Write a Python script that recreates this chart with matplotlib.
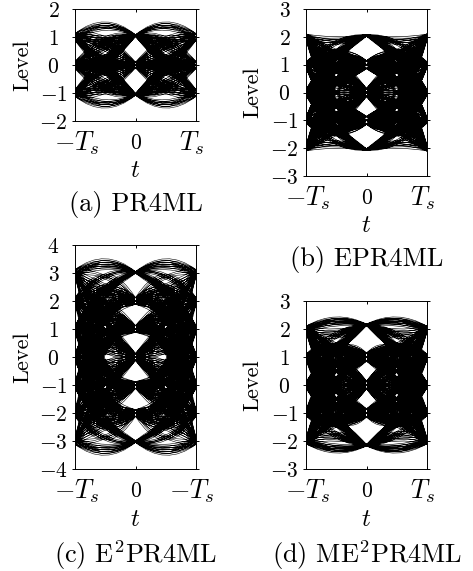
import matplotlib
matplotlib.use('Agg')
from matplotlib import pyplot as plt
from matplotlib.path import Path
from matplotlib.patches import PathPatch
from matplotlib.transforms import ScaledTranslation

plt.rcParams['mathtext.fontset']='cm'
plt.rcParams['font.family']=['cmr10','DejaVu Serif']
plt.rcParams['axes.formatter.use_mathtext']=True

# one half eye, t=-Ts..0: level at start, at the middle and at the end
a_start=[1,1,1,1,1,1,1, 0,0,0,0,0,0,0,0, -1,-1,-1,-1,-1, 1,1,1,1,1,1,1,1, 0,0,0,0,0]
a_mid=[1.48,1.42,1.36,1.30,0.98,0.90,0.75, 0.95,0.85,0.75,0.65,0.55,0.30,0.20,0.10, 0.30,0.20,0.10,0.00,-0.10,
       0.95,0.85,0.75,0.65,0.55,0.30,0.20,0.10, 0.30,0.20,0.10,0.00,-0.10]
a_end=[1.05,1.05,1.05,1.05,1.05,1.05,1.05, 1.05,1.05,1.05,1.05,1.05,1.05,1.05,1.05, 1.05,1.05,1.05,1.05,1.05,
       0,0,0,0,0,0,0,0, 0,0,0,0,0]
a_fan=[-0.12,0.0,0.12]

b_start=[2,2,2, 1,1,1,1,1, 0,0,0,0, -1,-1, -2,-2,
         2,2,2,2,2,2, 1,1,1,1,1,1,1, 0,0,0,0,0,0,0, -1,-1,-1,-1,-1,-1, -2,-2,-2,-2,
         2,2,2,2,2, 1,1,1,1,1,1, 0,0,0,0,0]
b_mid=[1.95,1.85,1.78, 1.82,1.75,1.50,1.42,1.32, 1.50,1.38,1.25,1.18, 1.20,1.00, 0.95,0.85,
       1.50,1.40,1.30,1.00,0.90,0.80, 1.50,1.40,1.30,1.00,0.90,0.75,0.50, 1.30,1.00,0.90,0.75,0.50,0.40,0.30,
       1.00,0.90,0.75,0.50,0.40,0.30, 0.50,0.40,0.30,0.00,
       1.30,1.00,0.90,0.75,0.50, 1.00,0.90,0.75,0.50,0.30,0.00, 0.75,0.50,0.30,0.00,-0.20]
b_end=[2.05]*16+[1]*30+[0]*16
b_fan=[-0.10,0.0,0.10]

c_start=[3,3,3,3,3, 2,2,2,2,2, 1,1,1, 0,0,
         3,3,3,3, 2,2,2,2,2,2, 1,1,1,1,1,1, 0,0,0,0,0, -1,-1,-1, -2,
         3,3,3, 2,2,2,2,2, 1,1,1,1,1,1, 0,0,0,0,0,0, -1,-1,-1,-1,-1, -2,-2,-2, -3,-3,
         3,3,3, 2,2,2,2,2, 1,1,1,1,1,1, 0,0,0,0]
c_mid=[3.45,3.38,3.32,3.25,3.18, 2.92,2.85,2.55,2.45,2.35, 2.50,2.40,2.30, 2.20,2.10,
       2.85,2.55,2.40,2.25, 2.90,2.50,2.35,2.20,1.95,1.80, 2.35,2.20,2.05,1.90,1.75,1.60, 1.90,1.75,1.60,1.45,1.30, 1.60,1.40,1.25, 1.30,
       1.90,1.70,1.50, 2.00,1.80,1.60,1.45,1.30, 1.65,1.50,1.35,1.20,0.95,0.85, 1.30,1.20,0.95,0.85,0.65,0.55, 0.95,0.85,0.65,0.55,0.40, 0.60,0.45,0.30, 0.30,0.15,
       1.35,1.20,0.95, 1.30,1.20,0.95,0.85,0.65, 0.95,0.85,0.65,0.50,0.35,0.20, 0.60,0.45,0.30,0.15]
c_end=[3.02]*15+[2]*25+[1]*30+[0]*18
c_fan=[-0.12,0.0,0.12]

d_start=[2,2,2,2,2, 2,2,2, 1,1,1,1,1, 0,0,0,0, -1,-1, -2,-2,
         2,2,2,2,2,2, 1,1,1,1,1,1,1, 0,0,0,0,0,0,0, -1,-1,-1,-1,-1,-1, -2,-2,-2,-2,
         2,2,2,2,2, 1,1,1,1,1,1, 0,0,0,0,0]
d_mid=[2.38,2.33,2.28,2.22,2.16, 1.95,1.85,1.72, 1.85,1.72,1.45,1.35,1.25, 1.45,1.35,1.25,1.15, 1.20,1.05, 0.95,0.80,
       1.45,1.35,1.25,1.15,0.80,0.70, 1.45,1.35,1.25,1.15,0.80,0.70,0.50, 1.25,1.15,0.80,0.70,0.50,0.25,0.15,
       1.15,0.80,0.70,0.50,0.25,0.15, 0.50,0.25,0.15,0.00,
       1.25,1.15,0.80,0.70,0.50, 1.05,0.80,0.70,0.50,0.25,0.05, 0.70,0.50,0.25,0.05,-0.15]
d_end=[2.15]*21+[1]*30+[0]*16
d_fan=[-0.10,0.0,0.10]

W,H=473,571
fig=plt.figure(figsize=(W/100,H/100),dpi=100)

def eye_path(start,mid,end,fan,top,sp):
    # quadratic arcs through the three levels, mirrored in t and in level
    vs,cs=[],[]
    for s0,m0,e0 in zip(start,mid,end):
        k=0.25 if e0>=top else sp   # inner bands stay wider at t=0
        for f in fan:
            for sg in (1,-1):
                s1,m1,e1=sg*(s0+f),sg*(m0+f/2),sg*(e0+f*k)
                c1=2*m1-(s1+e1)/2
                vs+=[(-1,s1),(-0.5,c1),(0,e1)]
                cs+=[Path.MOVETO,Path.CURVE3,Path.CURVE3]
                vs+=[(1,s1),(0.5,c1),(0,e1)]
                cs+=[Path.MOVETO,Path.CURVE3,Path.CURVE3]
    return Path(vs,cs)

def panel(box,start,mid,end,fan,top,sp,ylim,yticks,xlabs,t_y,cap,cap_y,cap_x,lab_x,lw):
    x0,y0,x1,y1=box
    ax=fig.add_axes([x0/W,1-y1/H,(x1-x0)/W,(y1-y0)/H])
    ax.add_patch(PathPatch(eye_path(start,mid,end,fan,top,sp),fill=False,ec='k',lw=lw))
    ax.set_xlim(-1,1)
    ax.set_ylim(*ylim)
    ax.set_xticks([-1,0,1])
    ax.set_xticklabels(xlabs,fontsize=19)
    ax.set_yticks(yticks)
    ax.set_yticklabels(['$%d$'%v for v in yticks],fontsize=15.5,ha='center')
    ax.tick_params(axis='x',direction='in',length=2,width=0.7,top=True,pad=16)
    ax.tick_params(axis='y',direction='out',length=2.5,width=0.7,right=True,labelright=False,pad=13)
    for i,lb in enumerate(ax.get_xticklabels()):
        lb.set_va('center')
        dx=[2,0,-4][i]/100
        lb.set_transform(lb.get_transform()+ScaledTranslation(dx,0,fig.dpi_scale_trans))
    ax.get_xticklabels()[1].set_fontsize(15.5)
    for s in ax.spines.values():
        s.set_linewidth(0.7)
    fig.text((x0+x1)/2/W,1-t_y/H,'$t$',fontsize=18,ha='center',va='center')
    fig.text(lab_x/W,1-(y0+y1)/2/H,'Level',fontsize=16,rotation=90,ha='center',va='center')
    fig.text(cap_x/W,1-cap_y/H,cap,fontsize=19,ha='center',va='center')

panel((75,9,196,121),a_start,a_mid,a_end,a_fan,1,0.8,(-2,2),[-2,-1,0,1,2],['$-T_s$','$0$','$T_s$'],171,'(a) PR4ML',204,136,23,0.4)
panel((306,9,427,176),b_start,b_mid,b_end,b_fan,2,1.4,(-3,3),[-3,-2,-1,0,1,2,3],['$-T_s$','$0$','$T_s$'],226,'(b) EPR4ML',260,367,253,0.45)
panel((75,245,196,469),c_start,c_mid,c_end,c_fan,3,1.0,(-4,4),[-4,-3,-2,-1,0,1,2,3,4],['$-T_s$','$0$','$-T_s$'],520,'(c) E$^2$PR4ML',555,136,23,0.4)
panel((306,301,427,469),d_start,d_mid,d_end,d_fan,2,1.4,(-3,3),[-3,-2,-1,0,1,2,3],['$-T_s$','$0$','$T_s$'],520,'(d) ME$^2$PR4ML',555,367,253,0.45)

fig.savefig('out.png',dpi=100)
